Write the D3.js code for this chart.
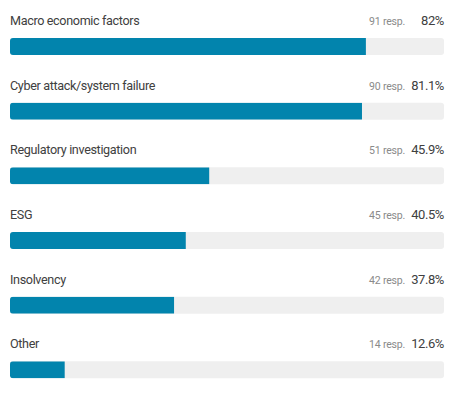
<!DOCTYPE html>
<html>
<head>
<meta charset="utf-8">
<script src="https://cdn.jsdelivr.net/npm/d3@7"></script>
<style>
  body { margin: 0; background: #fff; }
  text { font-family: Roboto, "Noto Sans", sans-serif; }
</style>
</head>
<body>
<div class="diagram"></div>
<script>
var categories = ["Macro economic factors", "Cyber attack/system failure", "Regulatory investigation", "ESG", "Insolvency", "Other"];
var responses = [91, 90, 51, 45, 42, 14];
var percents = [82, 81.1, 45.9, 40.5, 37.8, 12.6];
var percentLabels = ["82%", "81.1%", "45.9%", "40.5%", "37.8%", "12.6%"];

var width = 467, height = 395, margin = {left: 10, right: 23, top: 0};

var svg = d3.select('.diagram')
  .append('svg')
  .attr('width', width)
  .attr('height', height);

var x = d3.scaleLinear().domain([0, 100]).range([margin.left, width - margin.right]);
var y = d3.scaleBand().domain(categories).range([0, 388]);

var data = categories.map(function(c, i) {
  return {name: c, resp: responses[i], pct: percents[i], label: percentLabels[i]};
});

// rounded track used as clip so the fill keeps a square right end
svg.append('defs').append('clipPath')
  .attr('id', 'track')
  .append('rect')
  .attr('x', x(0))
  .attr('y', 38)
  .attr('width', x(100) - x(0))
  .attr('height', 17)
  .attr('rx', 3);

var row = svg.selectAll('.row')
  .data(data)
  .enter()
  .append('g')
  .attr('class', 'row')
  .attr('transform', function(d) { return 'translate(0,' + y(d.name) + ')'; });

row.append('text')
  .attr('x', x(0))
  .attr('y', 25)
  .attr('fill', '#404040')
  .style('font-size', '12.6px')
  .style('letter-spacing', '-0.35px')
  .text(function(d) { return d.name; });

row.append('text')
  .attr('x', 405)
  .attr('y', 25)
  .attr('text-anchor', 'end')
  .attr('fill', '#8a8a8a')
  .style('font-size', '10.5px')
  .style('letter-spacing', '-0.2px')
  .text(function(d) { return d.resp + ' resp.'; });

row.append('text')
  .attr('x', x(100))
  .attr('y', 25)
  .attr('text-anchor', 'end')
  .attr('fill', '#404040')
  .style('font-size', '13px')
  .style('letter-spacing', '-0.4px')
  .text(function(d) { return d.label; });

row.append('rect')
  .attr('x', x(0))
  .attr('y', 38)
  .attr('width', x(100) - x(0))
  .attr('height', 17)
  .attr('rx', 3)
  .attr('fill', '#efefef');

row.append('rect')
  .attr('clip-path', 'url(#track)')
  .attr('x', x(0))
  .attr('y', 38)
  .attr('width', function(d) { return x(d.pct) - x(0); })
  .attr('height', 17)
  .attr('fill', '#0284ad');
</script>
</body>
</html>
